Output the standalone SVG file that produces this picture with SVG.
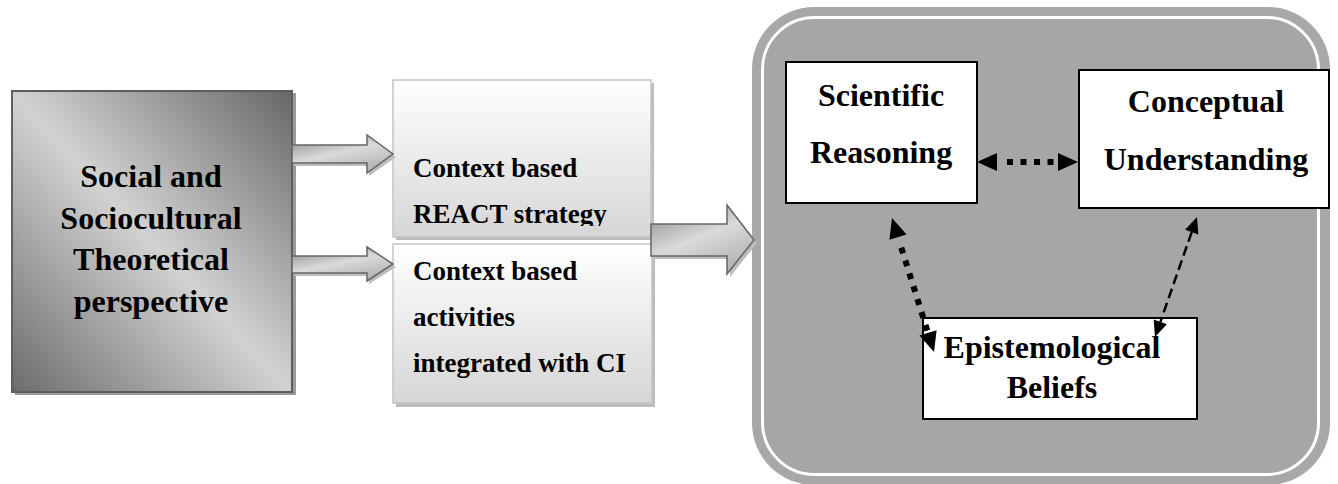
<svg xmlns="http://www.w3.org/2000/svg" xmlns:xlink="http://www.w3.org/1999/xlink" width="1338" height="484" viewBox="0 0 1338 484">
  <style>
    .lbl { font-family: "Liberation Serif", "Times New Roman", serif; font-weight: bold; fill: #000; }
    .big { font-size: 32px; text-anchor: middle; }
    .mid { font-size: 27px; }
    .plain { fill: #fff; stroke: #000; stroke-width: 2; }
    .blk { stroke: #666; stroke-width: 1.5; fill: url(#arrowFill); }
    .blkShadow { fill: #bdbdbd; }
    .dots { stroke: #000; stroke-width: 6; stroke-dasharray: 6 7.5; fill: none; }
    .dash { stroke: #000; stroke-width: 2.5; stroke-dasharray: 10 5; fill: none; }
    .head { fill: #000; }
  </style>
  <defs>
    <linearGradient id="theoryFill" x1="0" y1="1" x2="1" y2="0">
      <stop offset="0" stop-color="#6c6c6c"/>
      <stop offset="0.5" stop-color="#d2d2d2"/>
      <stop offset="1" stop-color="#676767"/>
    </linearGradient>
    <linearGradient id="stratFill" x1="0" y1="0" x2="0" y2="1">
      <stop offset="0" stop-color="#ffffff"/>
      <stop offset="1" stop-color="#d6d6d6"/>
    </linearGradient>
    <linearGradient id="arrowFill" x1="0" y1="0" x2="0.6" y2="1">
      <stop offset="0" stop-color="#858585"/>
      <stop offset="0.55" stop-color="#dadada"/>
      <stop offset="1" stop-color="#b4b4b4"/>
    </linearGradient>
    <clipPath id="reactClip">
      <rect x="393" y="80" width="258" height="146"/>
    </clipPath>
    <!-- arrowheads, tip at the origin pointing along +x -->
    <path id="headWide" class="head" d="M0,0 L-20,-9 L-20,9 Z"/>
    <path id="headNarrow" class="head" d="M0,0 L-16,-7 L-16,7 Z"/>
  </defs>

  <!-- outcome panel -->
  <g id="outcomes">
    <rect x="752" y="7" width="578" height="478" rx="62" fill="#a8a8a8"/>
    <rect x="762.5" y="17.5" width="556" height="457" rx="52" fill="#a6a6a6" stroke="#ffffff" stroke-width="3"/>
  </g>

  <g id="theory">
    <rect x="15" y="93" width="281" height="302" fill="#9a9a9a"/>
    <rect x="12" y="91" width="280" height="301" fill="url(#theoryFill)" stroke="#5e5e5e" stroke-width="2"/>
    <text class="lbl big" x="151" y="187">Social and</text>
    <text class="lbl big" x="151" y="228.5">Sociocultural</text>
    <text class="lbl big" x="151" y="270">Theoretical</text>
    <text class="lbl big" x="151" y="311.5">perspective</text>
  </g>

  <g id="react">
    <rect x="396" y="83" width="258" height="157" fill="#bcbcbc"/>
    <rect x="393" y="80" width="258" height="157" fill="url(#stratFill)" stroke="#c4c4c4" stroke-width="1.5"/>
    <g clip-path="url(#reactClip)">
      <text class="lbl mid" x="413" y="177">Context based</text>
      <text class="lbl mid" x="413" y="223">REACT strategy</text>
    </g>
  </g>

  <g id="activities">
    <rect x="396" y="247" width="259" height="160" fill="#bcbcbc"/>
    <rect x="393" y="244" width="259" height="159" fill="url(#stratFill)" stroke="#c4c4c4" stroke-width="1.5"/>
    <text class="lbl mid" x="413" y="280">Context based</text>
    <text class="lbl mid" x="413" y="326">activities</text>
    <text class="lbl mid" x="413" y="372">integrated with CI</text>
  </g>

  <g id="reasoning">
    <rect class="plain" x="786" y="62" width="191" height="141"/>
    <text class="lbl big" x="881" y="106">Scientific</text>
    <text class="lbl big" x="881" y="163">Reasoning</text>
  </g>

  <g id="understanding">
    <rect class="plain" x="1079" y="70" width="250" height="138"/>
    <text class="lbl big" x="1206" y="112">Conceptual</text>
    <text class="lbl big" x="1206" y="170">Understanding</text>
  </g>

  <g id="beliefs">
    <rect class="plain" x="923" y="318" width="274" height="101"/>
    <text class="lbl big" x="1052" y="358">Epistemological</text>
    <text class="lbl big" x="1052" y="398">Beliefs</text>
  </g>

  <g id="connectors">
    <!-- block arrows: theory to strategies, strategies to outcomes -->
    <polygon class="blkShadow" points="294,148 369,148 369,138 396,157 369,176 369,166 294,166"/>
    <polygon class="blk" points="292,145 367,145 367,135 393,154 367,173 367,163 292,163"/>
    <polygon class="blkShadow" points="294,259 369,259 369,250 396,267 369,284 369,276 294,276"/>
    <polygon class="blk" points="292,256 367,256 367,247 393,264 367,281 367,273 292,273"/>
    <polygon class="blkShadow" points="654,227 730,227 730,208 757,243 730,277 730,259 654,259"/>
    <polygon class="blk" points="651,224 727,224 727,205 754,240 727,274 727,256 651,256"/>

    <!-- reasoning <-> understanding -->
    <line class="dots" x1="1007" y1="162" x2="1055" y2="162"/>
    <use xlink:href="#headWide" transform="translate(977,162) rotate(180)"/>
    <use xlink:href="#headWide" transform="translate(1078,162)"/>

    <!-- reasoning <-> beliefs -->
    <line class="dots" x1="901.3" y1="247.6" x2="927.3" y2="330.6"/>
    <use xlink:href="#headWide" transform="translate(892,218) rotate(252.6)"/>
    <use xlink:href="#headWide" transform="translate(934,352) rotate(72.6)"/>

    <!-- understanding <-> beliefs -->
    <line class="dash" x1="1191.7" y1="232.1" x2="1160.4" y2="321.8"/>
    <use xlink:href="#headNarrow" transform="translate(1197,217) rotate(-70.7)"/>
    <use xlink:href="#headNarrow" transform="translate(1155,337) rotate(109.3)"/>
  </g>
</svg>
